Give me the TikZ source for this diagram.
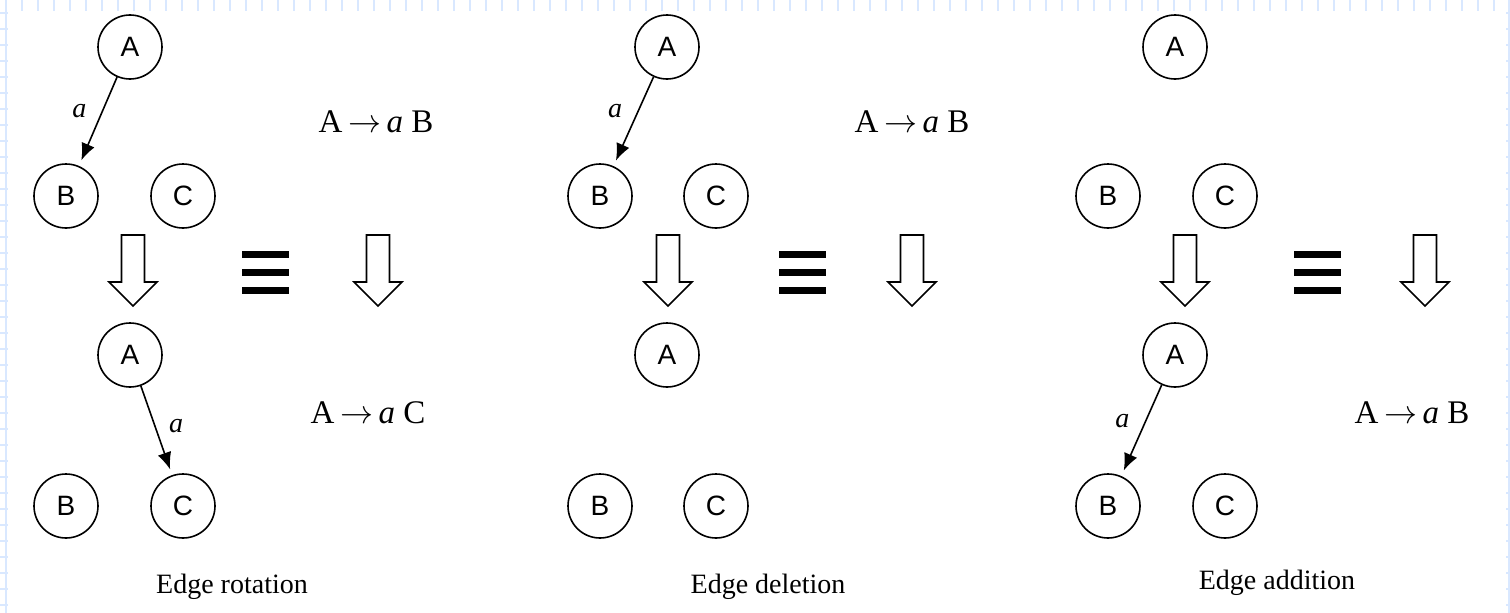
\RequirePackage{fix-cm}
\documentclass[tikz,border=0pt]{standalone}
\usepackage{fontspec}
\setmainfont{Liberation Serif}
\newfontfamily\sansf{Liberation Sans}
\usetikzlibrary{arrows.meta}

\tikzset{
  vtx/.style={circle, draw, line width=1.6pt, minimum size=64pt, inner sep=0pt,
              font=\sansf\fontsize{28}{28}\selectfont},
  edge/.style={line width=1.6pt, -{Latex[length=17pt,width=14pt]}, shorten >=6pt},
  elabel/.style={font=\fontsize{28}{28}\selectfont\itshape},
  rule/.style={font=\fontsize{33}{33}\selectfont},
  caption/.style={font=\fontsize{28}{28}\selectfont},
  gridline/.style={draw=blue!60!cyan!15, line width=2pt},
  pics/downarrow/.style={code={
    \draw[line width=1.6pt, line join=miter]
      (-11.5,-37) -- (11.5,-37) -- (11.5,10) -- (24,10) -- (0,34)
      -- (-24,10) -- (-11.5,10) -- cycle;}},
  pics/equiv/.style={code={
    \foreach \yy in {-18,0,18}
      \fill (-23.5,\yy-3.5) rectangle (23.5,\yy+3.5);}}
}
\newcommand{\yields}{\,$\rightarrow$\,}

\begin{document}
\begin{tikzpicture}[x=1pt,y=-1pt]
\useasboundingbox (0,0) rectangle (1510,613);

% page grid along the edges
\draw[gridline] (6,0) -- (6,613);
\draw[gridline] (1509,0) -- (1509,613);
\foreach \k in {1,...,93} \draw[gridline] (6+16*\k,0) -- (6+16*\k,11);
\foreach \k in {0,...,37} {
  \draw[gridline] (0,13+16*\k) -- (8,13+16*\k);
  \draw[gridline] (1506,13+16*\k) -- (1510,13+16*\k);
}

% ---------- edge rotation ----------
\node[vtx] (ra1) at (130,47) {A};
\node[vtx] (rb1) at (66,196) {B};
\node[vtx] (rc1) at (183,196) {C};
\draw[edge] (ra1) -- (rb1) node[elabel, pos=0.38, left=12pt] (ral1) {a};
\node[rule] (rr1) at (376,122) {A\yields\textit{a} B};
\pic (rd1) at (133,272) {downarrow};
\pic (re1) at (265,272) {equiv};
\pic (rd2) at (378,272) {downarrow};
\node[vtx] (ra2) at (130,355) {A};
\node[vtx] (rb2) at (66,506) {B};
\node[vtx] (rc2) at (183,506) {C};
\draw[edge] (ra2) -- (rc2) node[elabel, pos=0.45, right=10pt] (ral2) {a};
\node[rule] (rr2) at (368,413) {A\yields\textit{a} C};
\node[caption] (rcap) at (232,587) {Edge rotation};

% ---------- edge deletion ----------
\node[vtx] (da1) at (667,47) {A};
\node[vtx] (db1) at (600,196) {B};
\node[vtx] (dc1) at (716,196) {C};
\draw[edge] (da1) -- (db1) node[elabel, pos=0.38, left=12pt] (dal1) {a};
\node[rule] (dr1) at (912,122) {A\yields\textit{a} B};
\pic (dd1) at (668,272) {downarrow};
\pic (de1) at (802,272) {equiv};
\pic (dd2) at (912,272) {downarrow};
\node[vtx] (da2) at (667,355) {A};
\node[vtx] (db2) at (600,506) {B};
\node[vtx] (dc2) at (716,506) {C};
\node[caption] (dcap) at (768,587) {Edge deletion};

% ---------- edge addition ----------
\node[vtx] (aa1) at (1175,47) {A};
\node[vtx] (ab1) at (1108,196) {B};
\node[vtx] (ac1) at (1225,196) {C};
\pic (ad1) at (1185,272) {downarrow};
\pic (ae1) at (1317,272) {equiv};
\pic (ad2) at (1425,272) {downarrow};
\node[vtx] (aa2) at (1175,355) {A};
\node[vtx] (ab2) at (1108,506) {B};
\node[vtx] (ac2) at (1225,506) {C};
\draw[edge] (aa2) -- (ab2) node[elabel, pos=0.4, left=12pt] (aal2) {a};
\node[rule] (ar2) at (1412,413) {A\yields\textit{a} B};
\node[caption] (acap) at (1277,583) {Edge addition};
\end{tikzpicture}
\end{document}
